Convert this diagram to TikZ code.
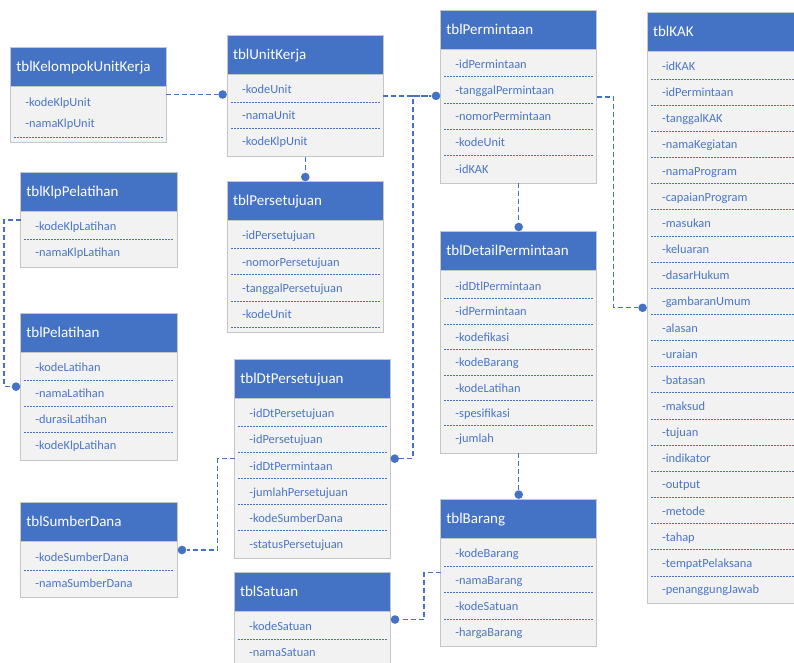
\documentclass[tikz,border=0pt]{standalone}
\usepackage{fontspec}
\setmainfont{Carlito}
\definecolor{hdrblue}{HTML}{4472C4}
\definecolor{bodygray}{HTML}{F2F2F2}
\definecolor{framegray}{HTML}{C6C6C6}
\definecolor{fieldblue}{HTML}{4A76C6}

\tikzset{
  tblbody/.style={draw=framegray, line width=1pt, fill=bodygray, anchor=north west,
    inner sep=0pt, outer sep=0pt},
  tblhead/.style={draw=framegray, line width=1pt, fill=hdrblue, anchor=north west,
    inner sep=0pt, outer sep=0pt, minimum height=39pt},
  tbltitle/.style={anchor=base west, inner sep=0pt, text=white,
    font=\fontsize{15}{18}\selectfont},
  fld/.style={anchor=base west, inner sep=0pt, text=fieldblue,
    font=\fontsize{12.4}{15}\selectfont},
  rowsep/.style={draw=hdrblue, line width=0.8pt, dash pattern=on 2pt off 1pt},
  conn/.style={draw=hdrblue, line width=1.3pt, dash pattern=on 5pt off 3pt},
  joint/.style={circle, fill=hdrblue, inner sep=0pt, minimum size=8.6pt, outer sep=0.4pt},
}

% table frame: name, left, top, right, bottom, title
\newcommand{\erdtable}[6]{%
  \node[tblbody, minimum width={#4-#2}, minimum height={#5-#3}] (#1) at (#2,#3) {};
  \node[tblhead, minimum width={#4-#2}] (#1-head) at (#2,#3) {};
  \node[tbltitle] (#1-title) at ({#2+5.5},{#3+24}) {#6};
}
% field rows with dashed separators: name, left, right, first row y, spacing, fields
\newcommand{\erdrows}[6]{%
  \foreach \f [count=\k] in {#6} {
    \node[fld] (#1-\k) at ({#2+14.5},{#4+(\k-1)*#5+4.5}) {-\f};
    \ifnum\k>1
      \draw[rowsep] ({#2+3.5},{#4+(\k-1.5)*#5}) -- ({#3-3.5},{#4+(\k-1.5)*#5});
    \fi
  }
}

\begin{document}
\begin{tikzpicture}[x=1pt,y=-1pt]
\useasboundingbox (0,0) rectangle (794,662);
\fill[white] (0,0) rectangle (794,662);
\begin{scope}
\clip (0,0) rectangle (794,662);

% tblKelompokUnitKerja
\erdtable{kelompok}{10.7}{47}{166}{142}{tblKelompokUnitKerja}
\node[fld] (kelompok-1) at (25.2,106.2) {-kodeKlpUnit};
\node[fld] (kelompok-2) at (25.2,127.2) {-namaKlpUnit};
\draw[rowsep] (14.2,137) -- (162.5,137);

% tblUnitKerja
\erdtable{unitkerja}{227.3}{35}{383.3}{156.7}{tblUnitKerja}
\erdrows{unitkerja}{227.3}{383.3}{89.3}{25.9}{kodeUnit,namaUnit,kodeKlpUnit}

% tblPermintaan
\erdtable{permintaan}{440.7}{10.7}{596.7}{183.3}{tblPermintaan}
\erdrows{permintaan}{440.7}{596.7}{63.5}{26.3}{idPermintaan,tanggalPermintaan,nomorPermintaan,kodeUnit,idKAK}

% tblKAK
\erdtable{kak}{647.3}{12.3}{810}{603.3}{tblKAK}
\erdrows{kak}{647.3}{810}{66}{26.15}{idKAK,idPermintaan,tanggalKAK,namaKegiatan,namaProgram,capaianProgram,masukan,keluaran,dasarHukum,gambaranUmum,alasan,uraian,batasan,maksud,tujuan,indikator,output,metode,tahap,tempatPelaksana,penanggungJawab}

% tblKlpPelatihan
\erdtable{klppelatihan}{20.7}{172.7}{177.3}{267.3}{tblKlpPelatihan}
\erdrows{klppelatihan}{20.7}{177.3}{226}{26.3}{kodeKlpLatihan,namaKlpLatihan}

% tblPelatihan
\erdtable{pelatihan}{20.7}{313.3}{177.3}{460}{tblPelatihan}
\erdrows{pelatihan}{20.7}{177.3}{367.3}{26}{kodeLatihan,namaLatihan,durasiLatihan,kodeKlpLatihan}

% tblPersetujuan
\erdtable{persetujuan}{227.3}{181.7}{383.3}{332.3}{tblPersetujuan}
\erdrows{persetujuan}{227.3}{383.3}{235.3}{26.3}{idPersetujuan,nomorPersetujuan,tanggalPersetujuan,kodeUnit}
\draw[rowsep] (230.8,327) -- (379.8,327);

% tblDetailPermintaan
\erdtable{detail}{440.7}{231.7}{596.7}{453.3}{tblDetailPermintaan}
\erdrows{detail}{440.7}{596.7}{286}{25.4}{idDtlPermintaan,idPermintaan,kodefikasi,kodeBarang,kodeLatihan,spesifikasi,jumlah}

% tblDtPersetujuan
\erdtable{dtpersetujuan}{234.7}{359}{390}{558.3}{tblDtPersetujuan}
\erdrows{dtpersetujuan}{234.7}{390}{413.3}{26.1}{idDtPersetujuan,idPersetujuan,idDtPermintaan,jumlahPersetujuan,kodeSumberDana,statusPersetujuan}

% tblSumberDana
\erdtable{sumberdana}{20.7}{502.7}{177.3}{597.3}{tblSumberDana}
\erdrows{sumberdana}{20.7}{177.3}{557.3}{26}{kodeSumberDana,namaSumberDana}

% tblBarang
\erdtable{barang}{440.7}{499.3}{596.7}{646}{tblBarang}
\erdrows{barang}{440.7}{596.7}{553.3}{26.3}{kodeBarang,namaBarang,kodeSatuan,hargaBarang}

% tblSatuan
\erdtable{satuan}{234.3}{572}{390.3}{667}{tblSatuan}
\erdrows{satuan}{234.3}{390.3}{626}{26.3}{kodeSatuan,namaSatuan}

% relationship end points
\node[joint, anchor=east]  (d1)  at (unitkerja.west |- kelompok.east) {};
\node[joint, anchor=south] (d2)  at (persetujuan.north) {};
\node[joint, anchor=east]  (d3)  at (permintaan.west |- unitkerja.east) {};
\node[joint, anchor=west]  (d4)  at (dtpersetujuan.east) {};
\node[joint, anchor=east]  (d5)  at (kak.west) {};
\node[joint, anchor=south] (d6)  at (detail.north) {};
\node[joint, anchor=south] (d7)  at (barang.north) {};
\node[joint, anchor=west]  (d8)  at (satuan.east) {};
\node[joint, anchor=west]  (d9)  at (sumberdana.east) {};
\node[joint, anchor=east]  (d10) at (pelatihan.west) {};

% relationships
\draw[conn] (kelompok.east) -- (d1);
\draw[conn] (unitkerja.south) -- (d2);
\draw[conn] (unitkerja.east) -- (d3);
\draw[conn] (d4) -- ++(18.3,0) |- (d3);
\draw[conn] (permintaan.east) -- ++(16.6,0) |- (d5);
\draw[conn] (permintaan.south) -- (d6);
\draw[conn] (detail.south) -- (d7);
\draw[conn] (barang.west) -- ++(-16.7,0) |- (d8);
\draw[conn] (dtpersetujuan.west) -- ++(-17,0) |- (d9);
\draw[conn] (klppelatihan.west) -- ++(-16.7,0) |- (d10);
\end{scope}
\end{tikzpicture}
\end{document}
